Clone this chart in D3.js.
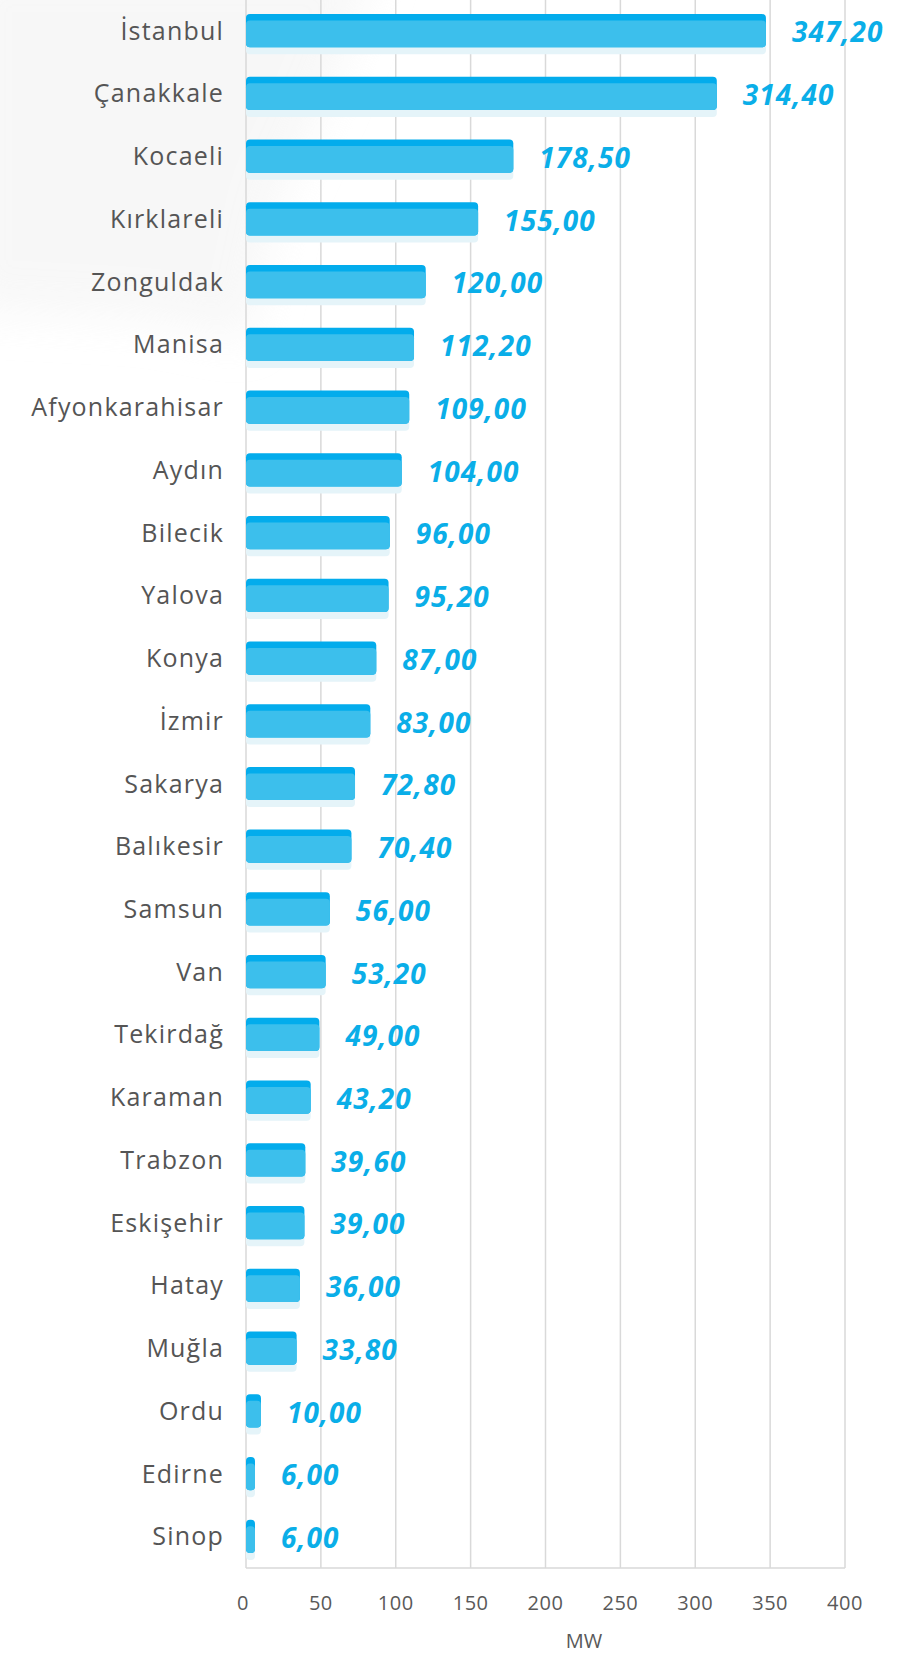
<!DOCTYPE html>
<html>
<head>
<meta charset="utf-8">
<script src="https://cdn.jsdelivr.net/npm/d3@7"></script>
<style>
  html, body { margin: 0; padding: 0; background: #ffffff; }
  svg { display: block; }
</style>
</head>
<body>
<svg id="chart" width="903" height="1654"></svg>
<script>
const categories = ["İstanbul","Çanakkale","Kocaeli","Kırklareli","Zonguldak","Manisa","Afyonkarahisar","Aydın","Bilecik","Yalova","Konya","İzmir","Sakarya","Balıkesir","Samsun","Van","Tekirdağ","Karaman","Trabzon","Eskişehir","Hatay","Muğla","Ordu","Edirne","Sinop"];
const values = [347.2,314.4,178.5,155.0,120.0,112.2,109.0,104.0,96.0,95.2,87.0,83.0,72.8,70.4,56.0,53.2,49.0,43.2,39.6,39.0,36.0,33.8,10.0,6.0,6.0];
const tickValues = [0,50,100,150,200,250,300,350,400];
const axisTitle = "MW";

const svg = d3.select("#chart");
const mLeft = 246, mRight = 845, mTop = -1, mBottom = 1568;

const x = d3.scaleLinear().domain([0,400]).range([mLeft,mRight]);
const y = d3.scaleBand().domain(categories).range([mTop,mBottom]).paddingInner(0.47).paddingOuter(0.24);

const fmt = v => v.toFixed(2).replace(".", ",");

// faint background watermark (top-left)
const defs = svg.append("defs");
defs.append("filter").attr("id", "blur")
  .attr("x", "-50%").attr("y", "-50%").attr("width", "200%").attr("height", "200%")
  .append("feGaussianBlur").attr("stdDeviation", 22);
svg.append("path")
  .attr("d", "M-40,-40 L380,-40 L330,90 L280,200 L250,340 L150,320 L-40,310 Z")
  .attr("fill", "#f3f3f3").attr("opacity", 0.6).attr("filter", "url(#blur)");

// gridlines
svg.append("g").selectAll("line").data(tickValues).join("line")
  .attr("x1", d => x(d)).attr("x2", d => x(d))
  .attr("y1", 0).attr("y2", mBottom)
  .attr("stroke", "#d9d9d9").attr("stroke-width", 1.5);

// bottom axis line
svg.append("line").attr("x1", mLeft).attr("x2", mRight).attr("y1", mBottom).attr("y2", mBottom)
  .attr("stroke", "#d9d9d9").attr("stroke-width", 1.5);

// tick labels
svg.append("g").selectAll("text").data(tickValues).join("text")
  .attr("x", d => x(d) - (d === 0 ? 3 : 0)).attr("y", mBottom + 42)
  .attr("text-anchor", "middle")
  .attr("font-family", "'Open Sans', sans-serif").attr("font-size", 20)
  .attr("letter-spacing", 0.5)
  .attr("fill", "#595959").text(d => d);

svg.append("text").attr("x", 584).attr("y", mBottom + 80)
  .attr("text-anchor", "middle")
  .attr("font-family", "'Open Sans', sans-serif").attr("font-size", 20)
  .attr("fill", "#595959").text(axisTitle);

const bh = y.bandwidth();
const bars = svg.append("g").selectAll("g").data(categories).join("g");

// soft shadow below
bars.append("rect")
  .attr("x", x(0)).attr("y", d => y(d) + 7)
  .attr("width", (d,i) => Math.max(0, x(values[i]) - x(0)))
  .attr("height", bh)
  .attr("rx", 4)
  .attr("fill", "#e5f4f9");

// bar body (darker top strip)
bars.append("rect")
  .attr("x", x(0)).attr("y", d => y(d))
  .attr("width", (d,i) => x(values[i]) - x(0))
  .attr("height", bh)
  .attr("rx", 4)
  .attr("fill", "#03acec");

bars.append("rect")
  .attr("x", x(0)).attr("y", d => y(d) + 6.5)
  .attr("width", (d,i) => x(values[i]) - x(0))
  .attr("height", bh - 6.5)
  .attr("rx", 4)
  .attr("fill", "#3cbfec");

// category labels
svg.append("g").selectAll("text").data(categories).join("text")
  .attr("x", mLeft - 22).attr("y", d => y(d) + bh/2)
  .attr("dy", "0.36em")
  .attr("text-anchor", "end")
  .attr("font-family", "'Open Sans', sans-serif").attr("font-size", 25)
  .attr("letter-spacing", 1.2)
  .attr("fill", "#555555").text(d => d);

// value labels
svg.append("g").selectAll("text").data(categories).join("text")
  .attr("x", (d,i) => x(values[i]) + 26).attr("y", d => y(d) + bh/2 + 2)
  .attr("dy", "0.35em")
  .attr("font-family", "'Open Sans', sans-serif").attr("font-size", 28)
  .attr("letter-spacing", 1.1)
  .attr("font-weight", "bold").attr("font-style", "italic")
  .attr("fill", "#0aaee8").text((d,i) => fmt(values[i]));
</script>
</body>
</html>
